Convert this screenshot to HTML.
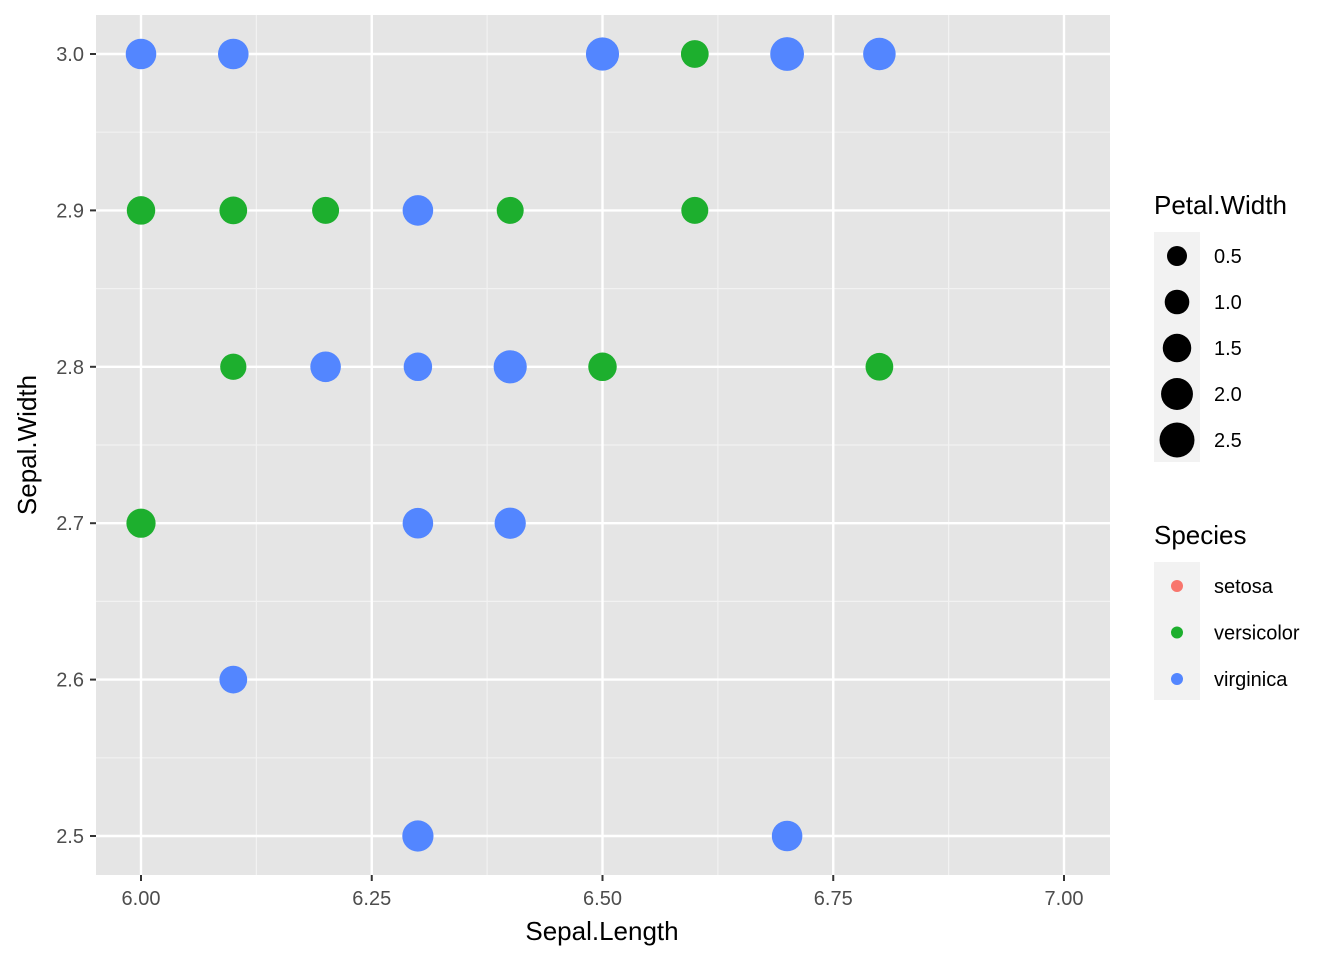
<!DOCTYPE html>
<html><head><meta charset="utf-8"><style>
body{margin:0;background:#fff;}
svg text{font-family:"Liberation Sans",Arial,sans-serif;}
</style></head><body>
<svg id="chart" width="1344" height="960" xmlns="http://www.w3.org/2000/svg">
<rect x="96" y="15" width="1014" height="860" fill="#e5e5e5"/>
<g id="grid"></g>
<g id="points"></g>
<g id="axes"></g>
<text x="602" y="940" font-size="26" text-anchor="middle" fill="#000">Sepal.Length</text>
<text transform="translate(36,445) rotate(-90)" font-size="26" text-anchor="middle" fill="#000">Sepal.Width</text>
<g>
<text x="1154" y="214" font-size="26" fill="#000">Petal.Width</text>
<rect x="1154" y="232" width="46" height="230" fill="#f2f2f2"/>
<g id="sizeLegend"></g>
</g>
<g>
<text x="1154" y="544" font-size="26" fill="#000">Species</text>
<rect x="1154" y="562" width="46" height="138" fill="#f2f2f2"/>
<g id="speciesLegend"></g>
</g>
</svg>
<script>
const xTicks=[6.00,6.25,6.50,6.75,7.00];
const xTickLabels=["6.00","6.25","6.50","6.75","7.00"];
const yTicks=[2.5,2.6,2.7,2.8,2.9,3.0];
const yTickLabels=["2.5","2.6","2.7","2.8","2.9","3.0"];
const sepalLength=[6.0,6.1,6.5,6.5,6.5,6.7,6.8,6.3,6.2,6.3,6.4,6.4,6.3,6.4,6.1,6.3,6.7,6.6,6.0,6.1,6.2,6.4,6.6,6.1,6.5,6.8,6.0];
const sepalWidth=[3.0,3.0,3.0,3.0,3.0,3.0,3.0,2.9,2.8,2.8,2.8,2.8,2.7,2.7,2.6,2.5,2.5,3.0,2.9,2.9,2.9,2.9,2.9,2.8,2.8,2.8,2.7];
const petalWidth=[1.8,1.8,1.8,2.0,2.2,2.3,2.1,1.8,1.8,1.5,2.1,2.2,1.8,1.9,1.4,1.9,1.8,1.4,1.5,1.4,1.3,1.3,1.3,1.2,1.5,1.4,1.6];
const species=["virginica","virginica","virginica","virginica","virginica","virginica","virginica","virginica","virginica","virginica","virginica","virginica","virginica","virginica","virginica","virginica","virginica","versicolor","versicolor","versicolor","versicolor","versicolor","versicolor","versicolor","versicolor","versicolor","versicolor"];
const sizeBreaks=[0.5,1.0,1.5,2.0,2.5];
const sizeBreakLabels=["0.5","1.0","1.5","2.0","2.5"];
const speciesLevels=["setosa","versicolor","virginica"];
const colors={setosa:"#F8766D",versicolor:"#1DAF2E",virginica:"#5386FF"};
const NS="http://www.w3.org/2000/svg";
const xs=v=>141+(v-6)*923;
const ys=v=>54+(3.0-v)*1564;
const rs=w=>Math.sqrt(48.5+103*w);
function mk(t,a,p){const e=document.createElementNS(NS,t);for(const k in a)e.setAttribute(k,a[k]);p.appendChild(e);return e;}
const grid=document.getElementById('grid');
for(let i=0;i<xTicks.length-1;i++){const m=(xTicks[i]+xTicks[i+1])/2;const l=mk('line',{x1:xs(m),x2:xs(m),y1:15,y2:875,stroke:'#f2f2f2','stroke-width':1.2},grid);
}
for(let i=0;i<yTicks.length-1;i++){const m=(yTicks[i]+yTicks[i+1])/2;const l=mk('line',{x1:96,x2:1110,y1:ys(m),y2:ys(m),stroke:'#f2f2f2','stroke-width':1.2},grid);
}
const axes=document.getElementById('axes');
xTicks.forEach((v,i)=>{const l=mk('line',{x1:xs(v),x2:xs(v),y1:15,y2:875,stroke:'#fff','stroke-width':2.4},grid);

mk('line',{x1:xs(v),x2:xs(v),y1:875,y2:881,stroke:'#333','stroke-width':2},axes);
const t=mk('text',{x:xs(v),y:905,'font-size':20,'text-anchor':'middle',fill:'#4d4d4d'},axes);t.textContent=xTickLabels[i];
});
yTicks.forEach((v,i)=>{const l=mk('line',{x1:96,x2:1110,y1:ys(v),y2:ys(v),stroke:'#fff','stroke-width':2.4},grid);

mk('line',{x1:90,x2:96,y1:ys(v),y2:ys(v),stroke:'#333','stroke-width':2},axes);
const t=mk('text',{x:84,y:ys(v)+7,'font-size':20,'text-anchor':'end',fill:'#4d4d4d'},axes);t.textContent=yTickLabels[i];
});
const pts=document.getElementById('points');
sepalLength.forEach((x,i)=>{const c=mk('circle',{cx:xs(x),cy:ys(sepalWidth[i]),r:rs(petalWidth[i]),fill:colors[species[i]]},pts);
});
const sl=document.getElementById('sizeLegend');
sizeBreaks.forEach((w,i)=>{const y=256+i*46;const c=mk('circle',{cx:1177,cy:y,r:rs(w),fill:'#000'},sl);

const t=mk('text',{x:1214,y:y+7,'font-size':20,fill:'#000'},sl);t.textContent=sizeBreakLabels[i];
});
const spl=document.getElementById('speciesLegend');
speciesLevels.forEach((s,i)=>{const y=586+i*46.5;const c=mk('circle',{cx:1177,cy:y,r:6,fill:colors[s]},spl);

const t=mk('text',{x:1214,y:y+7,'font-size':20,fill:'#000'},spl);t.textContent=s;
});
</script>
</body></html>
